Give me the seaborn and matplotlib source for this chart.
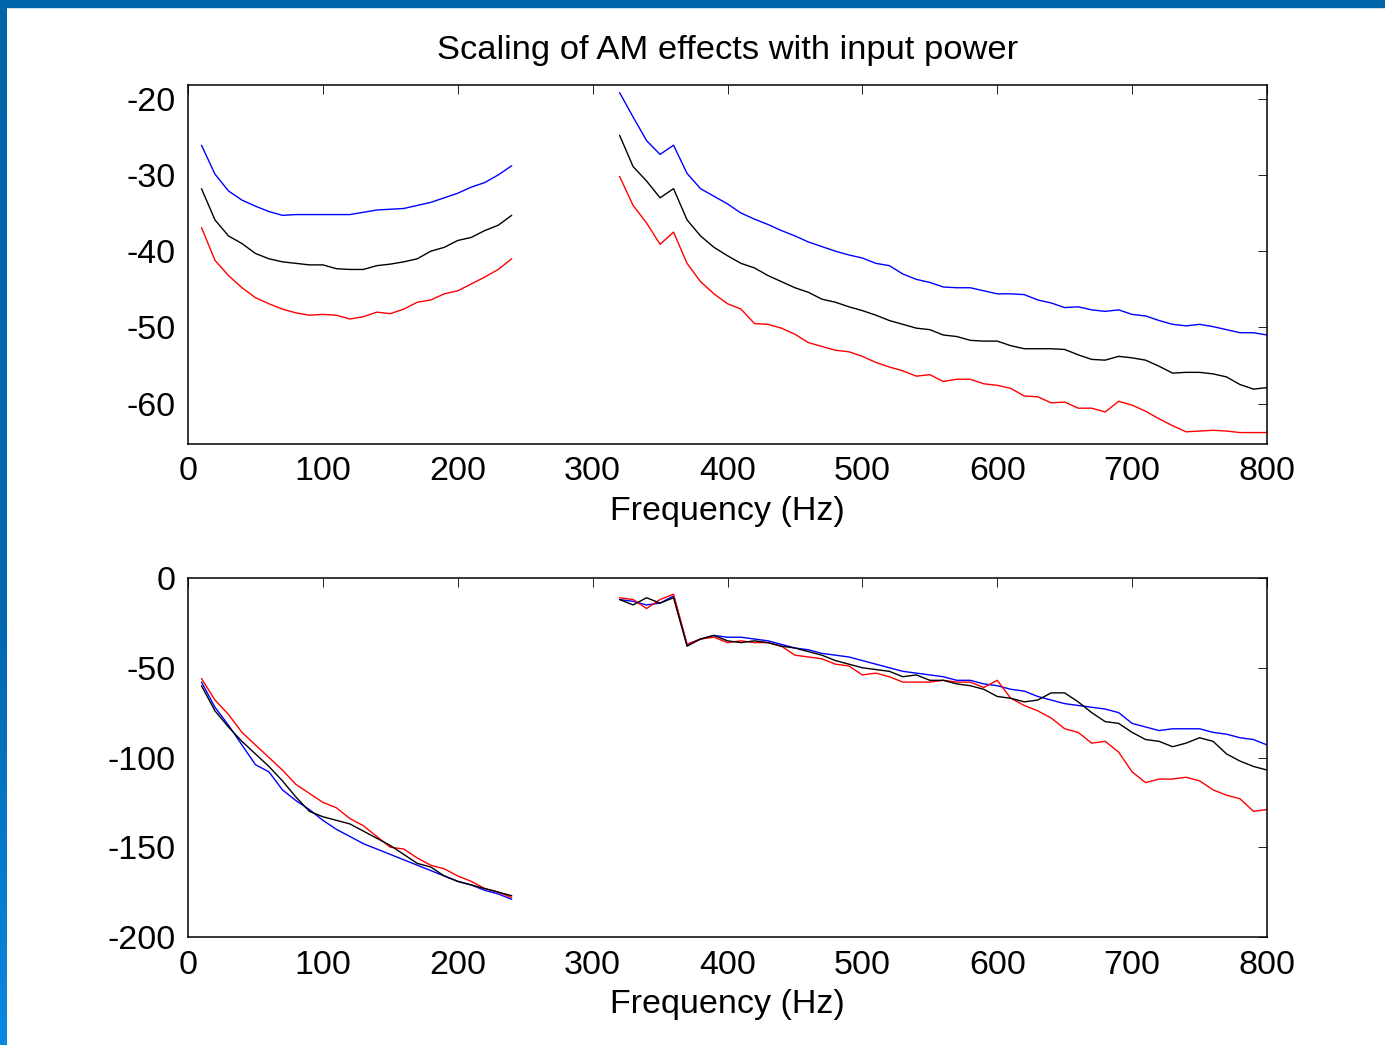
import numpy as np
import pandas as pd
import seaborn as sns
import matplotlib.pyplot as plt
from matplotlib.patches import Rectangle
from matplotlib.colors import LinearSegmentedColormap

# frequency grids (Hz) - two bands, gap in between
freq_low = np.arange(10, 250, 10)
freq_high = np.arange(320, 810, 10)

# top panel (dB)
top_blue_low = [-26.1, -29.9, -32.1, -33.3, -34.1, -34.8, -35.3, -35.2, -35.2, -35.2, -35.2, -35.2,
                -34.9, -34.6, -34.5, -34.4, -34.0, -33.6, -33.0, -32.4, -31.6, -31.0, -30.0, -28.8]
top_black_low = [-31.8, -35.9, -38.0, -39.0, -40.3, -41.0, -41.4, -41.6, -41.8, -41.8, -42.3, -42.4,
                 -42.4, -41.9, -41.7, -41.4, -41.0, -40.0, -39.5, -38.6, -38.2, -37.3, -36.6, -35.3]
top_red_low = [-36.9, -41.2, -43.2, -44.8, -46.1, -46.9, -47.6, -48.1, -48.4, -48.3, -48.4, -48.9,
               -48.6, -48.0, -48.2, -47.6, -46.7, -46.4, -45.6, -45.2, -44.3, -43.4, -42.4, -41.0]

top_blue_high = [-19.2, -22.4, -25.5, -27.3, -26.1, -29.8, -31.8, -32.8, -33.8, -35.0, -35.8, -36.5,
                 -37.3, -38.0, -38.8, -39.4, -40.0, -40.5, -40.9, -41.6, -41.9, -43.0, -43.7, -44.1,
                 -44.7, -44.8, -44.8, -45.2, -45.6, -45.6, -45.7, -46.4, -46.8, -47.4, -47.3, -47.7,
                 -47.9, -47.7, -48.3, -48.5, -49.1, -49.6, -49.8, -49.6, -49.9, -50.3, -50.7, -50.7, -51.0]
top_black_high = [-24.8, -28.9, -30.8, -33.0, -31.8, -35.9, -38.0, -39.5, -40.6, -41.6, -42.2, -43.2,
                  -44.0, -44.8, -45.4, -46.3, -46.7, -47.3, -47.8, -48.4, -49.1, -49.6, -50.1, -50.3,
                  -51.0, -51.2, -51.7, -51.8, -51.8, -52.4, -52.8, -52.8, -52.8, -52.9, -53.6, -54.2,
                  -54.3, -53.8, -54.0, -54.3, -55.1, -56.0, -55.9, -55.9, -56.1, -56.5, -57.5, -58.1, -57.9]
top_red_high = [-30.2, -34.0, -36.3, -39.1, -37.5, -41.6, -44.0, -45.6, -46.9, -47.6, -49.5, -49.6,
                -50.1, -50.9, -52.0, -52.5, -53.0, -53.2, -53.8, -54.6, -55.2, -55.7, -56.4, -56.2,
                -57.1, -56.8, -56.8, -57.4, -57.6, -58.0, -59.0, -59.1, -59.9, -59.8, -60.6, -60.6,
                -61.1, -59.7, -60.2, -61.0, -62.0, -62.9, -63.7, -63.6, -63.5, -63.6, -63.8, -63.8, -63.8]

# bottom panel
bot_blue_low = [-58, -72, -82, -93, -104, -108, -118, -124, -129, -135, -140, -144,
                -148, -151, -154, -157, -160, -163, -166, -169, -171, -174, -176, -179]
bot_black_low = [-60, -74, -83, -91, -98, -105, -113, -122, -130, -133, -135, -137,
                 -141, -145, -149, -154, -159, -161, -166, -169, -171, -173, -175, -177]
bot_red_low = [-56, -68, -76, -86, -93, -100, -107, -115, -120, -125, -128, -134,
               -138, -144, -150, -151, -156, -160, -162, -166, -169, -173, -175, -178]

bot_blue_high = [-12, -13, -15, -14, -10, -37, -34, -32, -33, -33, -34, -35,
                 -37, -39, -40, -42, -43, -44, -46, -48, -50, -52, -53, -54,
                 -55, -57, -57, -59, -60, -62, -63, -66, -68, -70, -71, -72,
                 -73, -75, -81, -83, -85, -84, -84, -84, -86, -87, -89, -90, -93]
bot_black_high = [-12, -15, -11, -14, -11, -38, -34, -32, -35, -36, -35, -36,
                  -38, -39, -41, -43, -46, -48, -50, -51, -52, -55, -54, -57,
                  -57, -59, -60, -62, -66, -67, -69, -68, -64, -64, -69, -75,
                  -80, -81, -86, -90, -91, -94, -92, -89, -91, -98, -102, -105, -107]
bot_red_high = [-11, -12, -17, -12, -9, -37, -34, -33, -36, -35, -36, -36,
                -38, -43, -44, -45, -48, -49, -54, -53, -55, -58, -58, -58,
                -57, -58, -58, -61, -57, -67, -71, -74, -78, -84, -86, -92,
                -91, -97, -108, -114, -112, -112, -111, -113, -118, -121, -123, -130, -129]

series = ["blue", "red", "black"]
palette = {"blue": "#0000ff", "black": "#000000", "red": "#ff0000"}


def long_frame(low, high):
    frames = []
    for name in series:
        frames.append(pd.DataFrame({"freq": freq_low, "value": low[name],
                                    "series": name, "segment": name + "_low"}))
        frames.append(pd.DataFrame({"freq": freq_high, "value": high[name],
                                    "series": name, "segment": name + "_high"}))
    return pd.concat(frames, ignore_index=True)


df_top = long_frame({"blue": top_blue_low, "black": top_black_low, "red": top_red_low},
                    {"blue": top_blue_high, "black": top_black_high, "red": top_red_high})
df_bot = long_frame({"blue": bot_blue_low, "black": bot_black_low, "red": bot_red_low},
                    {"blue": bot_blue_high, "black": bot_black_high, "red": bot_red_high})

sns.set_style("white")
plt.rcParams['font.family'] = ['Liberation Sans', 'DejaVu Sans']
plt.rcParams['axes.unicode_minus'] = False
plt.rcParams.update({'text.color': 'black', 'axes.labelcolor': 'black',
                     'xtick.color': 'black', 'ytick.color': 'black'})

fig = plt.figure(figsize=(13.85, 10.45), dpi=100)
fig.patch.set_facecolor("white")
W, H = 1385, 1045
ax1 = fig.add_axes([188 / W, 1 - 444 / H, 1079 / W, 359 / H])
ax2 = fig.add_axes([188 / W, 1 - 937 / H, 1079 / W, 359 / H])


def style(ax, ylim, yticks):
    ax.set_xlim(0, 800)
    ax.set_ylim(*ylim)
    ax.set_xticks(range(0, 801, 100))
    ax.set_yticks(yticks)
    ax.tick_params(direction='in', length=6.5, width=0.7, top=True, right=True,
                   labelsize=24.5, pad=9, color='#222222')
    ax.set_xlabel("Frequency (Hz)", fontsize=24.5, labelpad=6)
    ax.set_ylabel("")
    for s in ax.spines.values():
        s.set_visible(True)
        s.set_linewidth(1.1)
        s.set_color("black")


for ax, df in [(ax1, df_top), (ax2, df_bot)]:
    sns.lineplot(data=df, x="freq", y="value", hue="series", units="segment",
                 estimator=None, palette=palette, hue_order=series, linewidth=1.0,
                 legend=False, sort=False, ax=ax)

style(ax1, (-65.3, -18.2), [-60, -50, -40, -30, -20])
style(ax2, (-200, 0), [-200, -150, -100, -50, 0])
ax1.set_title("Scaling of AM effects with input power", fontsize=24.8, pad=19)

# slide frame: blue bar on top and gradient bar on left
fig.patches.append(Rectangle((0, 1 - 7 / H), 1, 7 / H, transform=fig.transFigure,
                             color="#0066aa", zorder=5))
bar = fig.add_axes([0, 0, 7 / W, 1 - 7 / H])
cmap = LinearSegmentedColormap.from_list("frame", [(0, "#0066aa"), (0.6, "#0068b0"), (1, "#0a88e0")])
bar.imshow(np.linspace(0, 1, 256).reshape(-1, 1), aspect='auto', cmap=cmap)
bar.axis('off')

fig.savefig("out.png", dpi=100)
